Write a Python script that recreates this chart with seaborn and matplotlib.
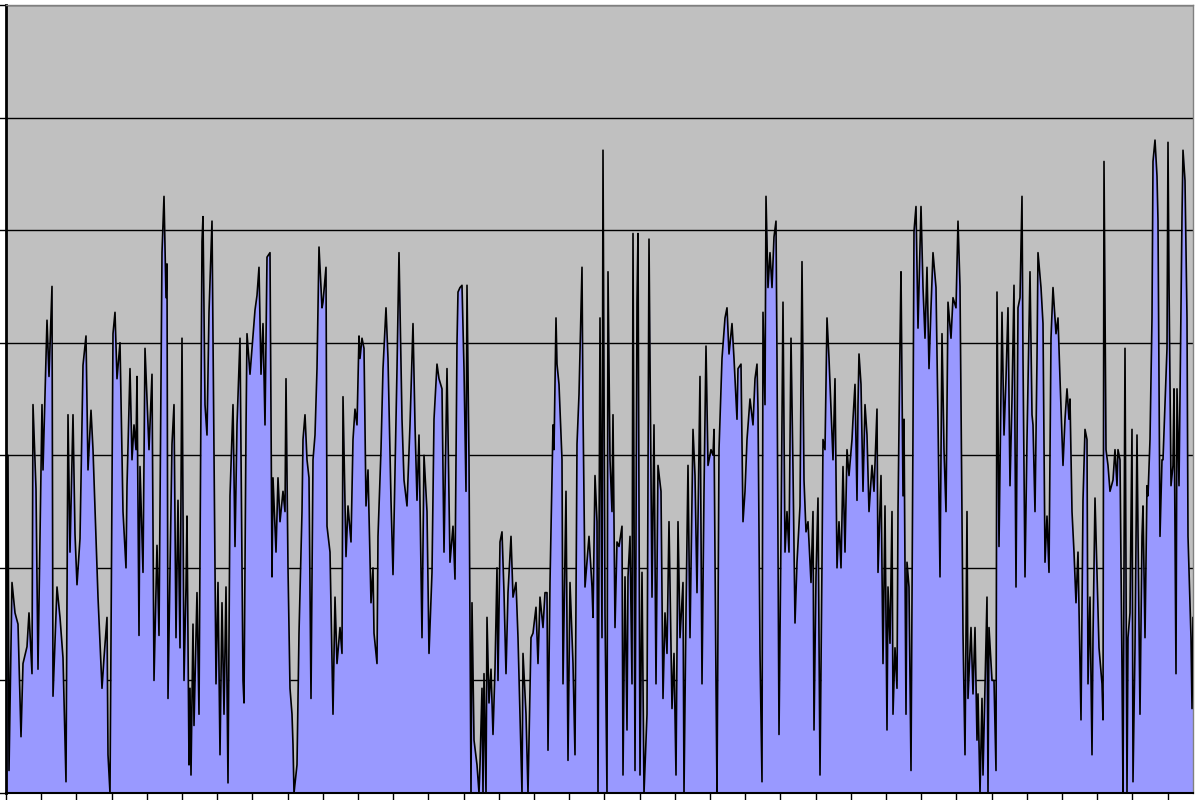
import numpy as np
import pandas as pd
import seaborn as sns
import matplotlib.pyplot as plt

# (sample, level) readings, split into ten stretches of the record
seg_01 = [(0, 1.33), (2, 3.0), (3, 0.2), (6, 1.87), (9, 1.6), (12, 1.5), (15, 0.5), (17, 1.15), (21, 1.3),
          (23, 1.6), (26, 1.06), (27, 3.45), (30, 2.7), (32, 1.1), (36, 3.45), (37, 2.87), (41, 4.2), (43, 3.7),
          (46, 4.5), (47, 0.86), (51, 1.83), (54, 1.56), (57, 1.2), (60, 0.1), (62, 3.36), (64, 2.14), (67, 3.36),
          (69, 2.3), (71, 1.85), (74, 2.26), (77, 3.8), (80, 4.06), (82, 2.87), (85, 3.4), (87, 3.05), (92, 1.74),
          (96, 0.93), (98, 1.2), (101, 1.56), (102, 0.34), (104, 0.0), (107, 4.08), (109, 4.27), (111, 3.68)]
seg_02 = [(114, 4.0), (117, 2.5), (120, 2.0), (121, 2.73), (124, 3.77), (126, 2.96), (128, 3.27), (130, 3.05),
          (131, 3.7), (133, 1.4), (134, 2.9), (137, 1.96), (139, 3.95), (141, 3.5), (143, 3.05), (146, 3.72),
          (148, 1.0), (151, 2.2), (153, 1.4), (156, 4.8), (158, 5.3), (160, 4.4), (161, 4.7), (162, 0.84),
          (166, 3.1), (168, 3.45), (170, 1.38), (172, 2.6), (174, 1.29), (176, 4.04), (178, 1.0), (180, 1.83),
          (181, 2.46), (183, 0.25), (184, 0.93), (185, 0.16), (187, 1.5), (188, 0.6), (191, 1.78), (193, 0.7),
          (196, 4.9), (197, 5.12), (199, 3.45), (201, 3.18), (203, 4.27), (206, 5.08), (207, 4.08), (210, 0.97),
          (212, 1.87), (214, 0.34), (216, 1.69), (218, 0.7), (220, 1.83), (222, 0.09), (224, 2.64), (227, 3.45),
          (229, 2.19), (231, 3.27)]
seg_03 = [(234, 4.04), (237, 1.0), (238, 0.8), (240, 3.23), (241, 4.08), (244, 3.72), (247, 4.06), (249, 4.29),
          (251, 4.42), (253, 4.67), (255, 3.72), (257, 4.17), (259, 3.27), (261, 4.76), (264, 4.8), (266, 1.92),
          (267, 2.8), (270, 2.14), (272, 2.8), (274, 2.41), (277, 2.68), (279, 2.5), (280, 3.68), (282, 2.0),
          (284, 0.93), (286, 0.7), (287, 0.43), (288, 0.0), (291, 0.25), (293, 1.42), (296, 2.5), (297, 3.14),
          (299, 3.36), (301, 2.96), (303, 2.8), (305, 0.84), (307, 2.96), (309, 3.18), (311, 3.77), (313, 4.85),
          (316, 4.31), (317, 4.36), (320, 4.67), (321, 2.37), (324, 2.14), (327, 0.7), (329, 1.74), (331, 1.15),
          (334, 1.47), (336, 1.24), (337, 3.52), (340, 2.1), (342, 2.55), (345, 2.23), (347, 3.14), (349, 3.41),
          (351, 3.27), (353, 4.06)]
seg_04 = [(354, 3.86), (356, 4.04), (358, 3.95), (360, 2.55), (362, 2.87), (365, 1.69), (367, 2.0), (368, 1.42),
          (371, 1.15), (372, 2.28), (375, 3.05), (377, 3.77), (380, 4.31), (382, 3.86), (385, 2.6), (387, 1.94),
          (391, 3.77), (393, 4.8), (396, 3.32), (398, 2.78), (401, 2.55), (404, 3.27), (407, 4.17), (409, 3.27),
          (411, 2.6), (413, 3.18), (416, 1.38), (418, 3.0), (421, 2.5), (423, 1.24), (426, 1.96), (428, 3.32),
          (431, 3.81), (433, 3.68), (436, 3.59), (438, 2.14), (441, 3.77), (444, 2.05), (447, 2.37), (449, 1.9),
          (451, 4.0), (452, 4.45), (454, 4.49), (456, 4.51), (458, 3.77), (460, 2.68), (461, 4.51), (463, 2.96),
          (465, 0.0), (466, 1.69), (468, 0.47), (471, 0.25), (473, 0.0)]
seg_05 = [(474, 0.25), (476, 0.93), (477, 0.0), (478, 1.06), (480, 0.0), (481, 1.56), (483, 0.8), (485, 1.1),
          (487, 0.52), (489, 1.1), (491, 2.0), (492, 1.0), (494, 2.23), (496, 2.32), (498, 1.78), (500, 1.06),
          (502, 1.78), (505, 2.28), (507, 1.74), (510, 1.87), (512, 1.38), (516, 0.0), (517, 1.24), (520, 0.7),
          (522, 0.0), (525, 1.38), (527, 1.42), (530, 1.65), (532, 1.15), (534, 1.74), (537, 1.47), (539, 1.78),
          (541, 1.78), (542, 0.38), (544, 1.87), (547, 3.27), (548, 3.05), (550, 4.22), (551, 3.81), (553, 3.63),
          (556, 2.96), (557, 0.97), (560, 2.68), (562, 0.29), (564, 1.87), (567, 1.15), (569, 0.34), (571, 3.1),
          (573, 3.54), (576, 4.67), (577, 3.41), (579, 1.83), (581, 2.05), (583, 2.28), (586, 1.83), (587, 1.56),
          (589, 2.82), (591, 2.41), (592, 0.0)]
seg_06 = [(594, 4.22), (596, 1.38), (597, 5.71), (599, 1.6), (601, 0.0), (602, 4.63), (604, 2.96), (606, 2.5),
          (607, 3.36), (609, 1.47), (611, 2.23), (613, 2.19), (616, 2.37), (617, 0.16), (619, 1.92), (621, 0.56),
          (622, 1.92), (624, 2.28), (626, 0.97), (627, 4.97), (629, 0.2), (631, 4.36), (632, 4.97), (634, 0.16),
          (636, 1.96), (638, 0.0), (641, 0.7), (643, 4.92), (646, 1.74), (648, 3.27), (650, 0.97), (652, 2.91),
          (655, 2.68), (657, 0.84), (659, 1.6), (661, 1.24), (663, 2.41), (666, 0.75), (668, 1.24), (670, 0.16),
          (672, 2.41), (674, 1.38), (677, 1.87), (678, 0.0), (680, 1.6), (682, 2.91), (684, 1.38), (687, 3.23),
          (689, 2.82), (691, 1.78), (694, 3.7), (696, 0.97), (698, 2.68), (700, 3.97), (702, 2.91), (705, 3.05),
          (707, 3.0), (708, 3.23), (710, 0.97), (711, 0.0), (713, 3.05)]
seg_07 = [(716, 3.86), (719, 4.22), (721, 4.31), (723, 3.9), (726, 4.17), (728, 3.86), (731, 3.32), (732, 3.77),
          (735, 3.81), (737, 2.41), (739, 2.68), (741, 3.14), (744, 3.5), (747, 3.27), (749, 3.68), (751, 3.81),
          (752, 3.41), (754, 1.24), (756, 0.1), (757, 4.27), (759, 3.45), (760, 5.3), (762, 4.49), (764, 4.8),
          (766, 4.49), (768, 4.94), (770, 5.08), (771, 3.86), (773, 0.52), (775, 2.28), (777, 4.36), (779, 2.14),
          (781, 2.5), (783, 2.14), (785, 4.04), (787, 2.87), (789, 1.51), (791, 2.05), (794, 2.55), (796, 4.72),
          (798, 2.78), (800, 2.32), (802, 2.41), (805, 1.87), (807, 2.5), (808, 0.56), (810, 1.92), (812, 2.62),
          (814, 0.16), (816, 2.05), (817, 3.14), (819, 3.05), (821, 4.22), (823, 3.86), (826, 3.18), (827, 2.96),
          (829, 3.68), (831, 2.0), (833, 2.41)]
seg_08 = [(835, 2.0), (837, 2.9), (839, 2.14), (841, 3.05), (843, 2.82), (846, 3.14), (847, 3.32), (849, 3.63),
          (851, 2.6), (852, 3.45), (853, 3.9), (855, 3.63), (857, 2.68), (859, 3.45), (861, 3.18), (863, 2.5),
          (866, 2.91), (868, 2.68), (871, 3.41), (872, 1.96), (875, 2.82), (877, 1.15), (879, 2.55), (881, 0.56),
          (882, 1.83), (884, 1.33), (886, 2.5), (887, 0.7), (889, 1.29), (891, 0.93), (892, 2.5), (894, 4.0),
          (895, 4.63), (897, 2.64), (898, 3.32), (900, 0.7), (901, 2.05), (903, 1.83), (905, 0.2), (907, 3.23),
          (908, 4.99), (910, 5.21), (912, 4.13), (915, 5.21), (917, 4.49), (919, 4.04), (921, 4.67), (923, 3.77),
          (925, 4.31), (927, 4.8), (930, 4.49), (932, 3.32), (934, 1.92), (936, 4.08), (938, 3.05), (940, 2.5),
          (942, 4.36), (945, 4.04), (947, 4.4), (950, 4.31), (952, 5.08)]
seg_09 = [(954, 4.5), (956, 2.5), (957, 1.42), (959, 0.34), (961, 2.5), (962, 0.84), (965, 1.47), (967, 0.88),
          (969, 1.47), (971, 0.47), (972, 0.88), (974, 0.0), (976, 0.84), (977, 0.16), (979, 0.97), (981, 1.74),
          (982, 0.0), (983, 1.47), (986, 1.0), (988, 1.0), (990, 0.2), (991, 4.45), (993, 2.19), (996, 4.27),
          (998, 3.18), (1000, 3.68), (1002, 4.31), (1004, 2.73), (1006, 3.5), (1008, 4.51), (1010, 1.83),
          (1012, 4.31), (1014, 4.4), (1016, 5.3), (1017, 3.86), (1019, 1.92), (1021, 3.14), (1024, 4.63),
          (1026, 3.36), (1027, 3.27), (1029, 2.5), (1031, 3.86), (1032, 4.8), (1035, 4.49), (1037, 4.17),
          (1039, 2.05), (1041, 2.46), (1043, 1.96), (1045, 4.04), (1047, 4.49), (1050, 4.08), (1052, 4.22),
          (1054, 3.68), (1057, 2.91), (1059, 3.32), (1061, 3.59), (1063, 3.32)]
seg_10 = [(1064, 3.5), (1066, 2.5), (1068, 2.14), (1070, 1.69), (1072, 2.14), (1075, 0.65), (1077, 2.6),
          (1079, 3.23), (1081, 3.14), (1082, 0.97), (1084, 1.74), (1086, 0.34), (1087, 1.38), (1089, 2.62),
          (1091, 1.96), (1093, 1.29), (1096, 0.97), (1097, 0.65), (1098, 5.61), (1100, 3.05), (1102, 2.91),
          (1104, 2.68), (1107, 2.78), (1109, 3.05), (1111, 2.73), (1112, 3.05), (1114, 2.96), (1116, 1.1),
          (1117, 0.0), (1119, 3.95), (1121, 0.0), (1122, 1.38), (1124, 1.6), (1126, 3.23), (1127, 0.1),
          (1129, 1.29), (1131, 3.18), (1132, 2.32), (1134, 0.7), (1136, 2.28), (1137, 2.55), (1139, 1.38),
          (1141, 2.73), (1142, 2.64), (1144, 3.14), (1146, 4.22), (1147, 5.61), (1149, 5.8), (1151, 5.48),
          (1152, 5.08), (1154, 2.28), (1156, 2.96), (1157, 2.96), (1159, 3.45), (1161, 3.95), (1162, 5.78),
          (1163, 4.54), (1165, 2.73), (1167, 2.91), (1168, 3.59), (1170, 1.06), (1171, 3.59), (1173, 2.73),
          (1176, 5.12), (1177, 5.71), (1179, 5.44), (1181, 4.22), (1182, 2.28), (1185, 1.38), (1186, 0.75),
          (1187, 1.56)]

segments = [seg_01, seg_02, seg_03, seg_04, seg_05, seg_06, seg_07, seg_08, seg_09, seg_10]
df = pd.DataFrame([p for seg in segments for p in seg], columns=["sample", "level"])

tick_step = 35.2
y_max = 7

sns.set_style("white", {"axes.facecolor": "#C0C0C0"})
fig = plt.figure(figsize=(12, 8), dpi=100)
ax = fig.add_axes([6 / 1200, 7 / 800, 1187 / 1200, 788 / 800])

ax.fill_between(df["sample"], 0, df["level"], color="#9999FF", lw=0, zorder=2)
sns.lineplot(data=df, x="sample", y="level", estimator=None, color="black", lw=1.2, ax=ax, zorder=3)

ax.set_xlim(df["sample"].min(), df["sample"].max())
ax.set_ylim(0, y_max)
ax.set_yticks(range(y_max + 1))
ax.set_xticks(np.arange(0, df["sample"].max(), tick_step))
ax.yaxis.grid(True, color="black", lw=1, zorder=1)
ax.set_axisbelow(True)
# seaborn's white style switches tick marks off; the reference shows them
ax.tick_params(axis="x", bottom=True, direction="out", length=6, width=1, color="black", labelbottom=False)
ax.tick_params(axis="y", left=True, direction="out", length=5, width=1, color="black", labelleft=False)
ax.set_xlabel("")
ax.set_ylabel("")

ax.spines["left"].set_color("black")
ax.spines["left"].set_linewidth(2)
ax.spines["bottom"].set_color("black")
ax.spines["bottom"].set_linewidth(1.5)
for side in ["top", "right"]:
    ax.spines[side].set_color("#808080")
    ax.spines[side].set_linewidth(1)

fig.savefig("out.png", dpi=100)
